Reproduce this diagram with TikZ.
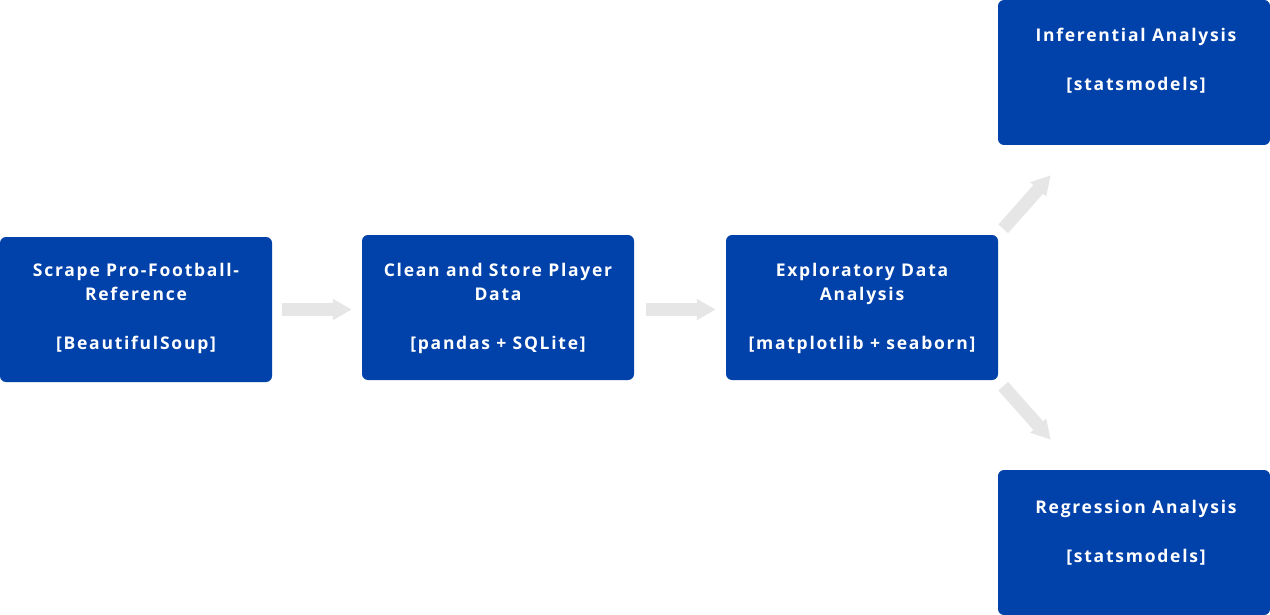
\documentclass[tikz,border=0pt]{standalone}
\usepackage{fontspec}
\newfontfamily\boxfont[LetterSpace=10]{Open Sans}
\usetikzlibrary{arrows.meta,calc}
\definecolor{boxblue}{RGB}{0,65,170}
\definecolor{arrowgrey}{RGB}{230,230,230}
\begin{document}
\begin{tikzpicture}[x=1pt,y=-1pt,
  stage/.style={fill=boxblue,draw=none,rounded corners=6pt,minimum width=272pt,minimum height=145pt,inner sep=0pt},
  label/.style={text=white,font=\boxfont\bfseries\fontsize{17.5}{24.5}\selectfont,align=center,anchor=north,inner sep=0pt},
  flow/.style={draw=arrowgrey,line width=13pt,-{Triangle[length=19pt,width=20pt]}}]
\useasboundingbox (0,0) rectangle (1270,615);
\node[stage] (s1) at (136,309.5) {};
\node[stage] (s2) at (498,307.5) {};
\node[stage] (s3) at (862,307.5) {};
\node[stage] (s4) at (1134,72.5) {};
\node[stage] (s5) at (1134,542.5) {};
\node[label] (t1) at (136,263) {Scrape Pro-Football-\\Reference\\[24.5pt][BeautifulSoup]};
\node[label] (t2) at (498,263) {Clean and Store Player\\Data\\[24.5pt][pandas + SQLite]};
\node[label] (t3) at (862,263) {Exploratory Data\\Analysis\\[24.5pt][matplotlib + seaborn]};
\node[label] (t4) at (1136,28) {Inferential Analysis\\[24.5pt][statsmodels]};
\node[label] (t5) at (1136,500) {Regression Analysis\\[24.5pt][statsmodels]};
\draw[flow] ($(s1.east)+(10,0)$) -- ($(s2.west)+(-10,2)$);
\draw[flow] ($(s2.east)+(12,2)$) -- ($(s3.west)+(-10,2)$);
\draw[flow] ($(s3.north east)+(5,-6)$) -- ($(s4.south west)+(53,30)$);
\draw[flow] ($(s3.south east)+(5,6)$) -- ($(s5.north west)+(53,-30)$);
\end{tikzpicture}
\end{document}
